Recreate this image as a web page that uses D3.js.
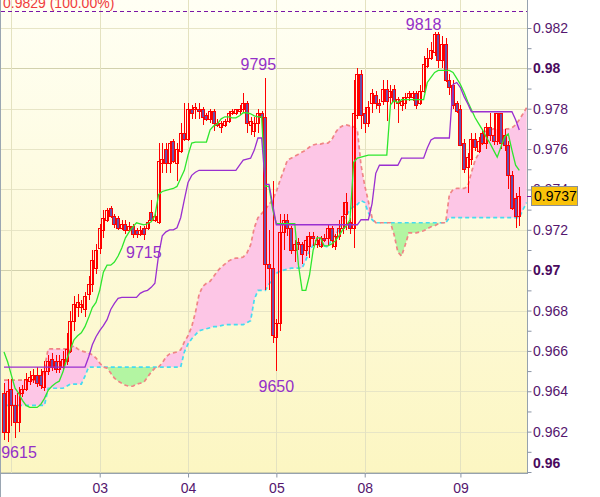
<!DOCTYPE html>
<html><head><meta charset="utf-8">
<script src="https://cdn.jsdelivr.net/npm/d3@7"></script>
<style>
body{margin:0;background:#fff}
svg{display:block}
text{font-family:"Liberation Sans",Arial,sans-serif}
</style>
</head><body>
<svg id="chart" width="600" height="497"></svg>
<script>
// ---------- DATA (prices in pips: value / 10000) ----------
const dayLabels = ["03","04","05","08","09"];
const dayStarts = [26,50,74,98,124];
const dayGrid   = [2,26,50,74,98,124];

const open = [
9639,9620,9641,9633,9625,9639,9641,9645,9646,9648,
9648,9642,9650,9656,9655,9651,9652,9655,9660,9675,
9682,9682,9681,9688,9693,9701,9711,9720,9725,9731,
9727,9726,9721,9723,9720,9722,9720,9718,9721,9721,
9729,9725,9724,9753,9760,9753,9764,9753,9759,9768,
9765,9780,9780,9780,9780,9777,9775,9779,9773,9771,
9772,9774,9778,9778,9779,9780,9783,9772,9769,9773,
9778,9776,9703,9701,9667,9674,9719,9725,9721,9710,
9714,9713,9710,9712,9717,9713,9712,9716,9716,9721,
9712,9717,9721,9728,9724,9721,9777,9797,9778,9773,
9783,9787,9783,9784,9790,9786,9790,9783,9782,9783,
9786,9786,9788,9783,9789,9801,9805,9808,9817,9804,
9812,9794,9792,9783,9780,9763,9751,9755,9765,9759,
9768,9763,9771,9767,9764,9778,9767,9762,9747,9736,
9727];
const high = [
9644,9646,9646,9638,9642,9643,9649,9650,9651,9652,
9651,9655,9658,9659,9658,9658,9660,9669,9680,9687,
9688,9685,9689,9697,9710,9713,9723,9730,9731,9732,
9728,9727,9725,9725,9724,9723,9721,9722,9722,9725,
9735,9728,9763,9763,9763,9764,9765,9763,9773,9783,
9783,9782,9783,9783,9781,9778,9780,9780,9775,9774,
9775,9779,9780,9780,9782,9788,9784,9776,9776,9780,
9779,9795,9720,9744,9676,9728,9728,9728,9722,9715,
9716,9714,9717,9719,9719,9717,9717,9718,9723,9722,
9718,9725,9734,9738,9726,9794,9800,9799,9781,9784,
9790,9789,9785,9794,9794,9792,9792,9786,9786,9788,
9789,9789,9789,9792,9806,9810,9813,9818,9818,9816,
9815,9797,9794,9784,9782,9765,9758,9768,9768,9766,
9770,9773,9778,9778,9778,9778,9770,9764,9749,9738,
9741];
const low = [
9616,9615,9623,9617,9620,9637,9640,9643,9644,9642,
9641,9640,9648,9650,9649,9649,9650,9653,9659,9670,
9677,9679,9677,9685,9689,9698,9708,9716,9724,9726,
9721,9720,9720,9718,9719,9716,9716,9717,9715,9720,
9724,9724,9723,9748,9748,9748,9753,9744,9758,9764,
9764,9775,9775,9775,9772,9774,9773,9769,9771,9768,
9771,9773,9777,9777,9777,9778,9768,9767,9766,9768,
9766,9690,9690,9664,9650,9670,9710,9717,9708,9704,
9710,9703,9707,9706,9712,9711,9711,9714,9712,9711,
9710,9715,9718,9720,9718,9711,9775,9770,9768,9771,
9778,9780,9778,9782,9774,9782,9780,9773,9779,9780,
9784,9784,9780,9782,9788,9800,9804,9806,9800,9800,
9793,9787,9780,9778,9762,9748,9738,9752,9759,9758,
9762,9760,9764,9762,9762,9760,9759,9740,9730,9721,
9722];
const close = [
9620,9640,9633,9625,9639,9641,9646,9647,9648,9644,
9643,9650,9655,9652,9651,9655,9656,9661,9675,9683,
9684,9683,9687,9693,9705,9710,9721,9726,9730,9727,
9723,9721,9723,9720,9722,9718,9718,9720,9718,9724,
9725,9727,9754,9755,9753,9763,9754,9760,9768,9765,
9780,9778,9781,9779,9776,9775,9779,9773,9772,9773,
9774,9778,9779,9780,9780,9783,9773,9774,9773,9778,
9776,9703,9701,9668,9674,9719,9725,9721,9710,9713,
9713,9708,9715,9717,9716,9715,9716,9715,9721,9715,
9717,9721,9727,9734,9721,9778,9797,9777,9773,9781,
9788,9783,9782,9790,9784,9789,9784,9785,9784,9786,
9788,9788,9782,9789,9802,9805,9809,9817,9804,9812,
9794,9791,9782,9779,9762,9750,9756,9765,9761,9764,
9763,9771,9767,9764,9778,9763,9762,9747,9731,9727,
9737];

// Tenkan-sen (green) and Kijun-sen (purple), one value per bar
const tenkan = [
9659.5,9654.5,9648,9641.5,9639,9635.5,9633,9632,9632,9632,
9633.5,9636.5,9640.5,9642.5,9644,9645,9649.5,9655.5,9660.5,9665.5,
9667.5,9669,9672,9676.5,9681.5,9684,9690,9699,9702.5,9702.5,
9704,9707,9711,9716,9719,9721.5,9723.5,9723,9722.5,9723,
9724,9727,9737.5,9739,9739.5,9740,9740.5,9741.5,9745.5,9749.5,
9757,9763,9763.5,9763.5,9763.5,9763.5,9769.5,9771.5,9772.5,9775,
9776,9776,9775.5,9775.5,9776.5,9778,9778,9777.5,9776.5,9776,
9776,9741.5,9741.5,9730,9723,9723,9723,9723,9723,9723,
9702.5,9690,9690,9697.5,9710,9716,9716,9712,9712,9713,
9714.5,9717,9720,9722,9725,9753.5,9755.5,9756,9756.5,9757,
9757,9757,9757,9757,9757,9782,9784,9783,9784.5,9784.5,
9784.5,9784.5,9784.5,9784.5,9784.5,9793,9795.5,9798,9799,9799,
9799,9799,9798,9795,9792,9788,9783.5,9779.5,9775.5,9772.5,
9769.5,9766,9763,9759.5,9756,9761,9766,9767.5,9759.5,9752,
9749.5];
const kijun = [
9652,9652,9652,9652,9652,9652,9652,9652,9652,9652,
9652,9652,9652,9652,9652,9652,9652,9652,9652,9652,
9652,9652,9652,9657,9663,9667,9670,9672.5,9675.5,9680.5,
9683.5,9686,9686.5,9686.5,9686.5,9686.5,9686.5,9688.5,9689.5,9690,
9691.5,9693.5,9707.5,9717,9719,9720,9720,9721,9726,9735,
9743.5,9747,9748.5,9749.5,9749.5,9749.5,9749.5,9749.5,9749.5,9749.5,
9749.5,9749.5,9749.5,9749.5,9752,9754.5,9755,9755.5,9759.5,9765.5,
9765.5,9742.5,9742.5,9732.5,9722.5,9722.5,9722.5,9722.5,9722.5,9722.5,
9722.5,9722.5,9722.5,9722.5,9722.5,9722.5,9722.5,9722.5,9722.5,9722.5,
9722.5,9722.5,9722.5,9722.5,9722.5,9722.5,9722.5,9725,9725,9725,
9733,9748,9752,9752,9752,9752,9752,9752,9755.5,9755.5,
9755.5,9755.5,9755.5,9755.5,9755.5,9760.5,9764.5,9765.5,9765.5,9765.5,
9765.5,9765.5,9792,9793,9790.5,9786,9782.5,9778.5,9778.5,9778.5,
9778.5,9778.5,9778.5,9778.5,9778.5,9778.5,9778.5,9778.5,9778.5,9774.5,
9769.5];

// Senkou spans (already displaced), bars 0..142
const spanA = [
9645.5,9645.5,9645.5,9645.5,9645.5,9645.5,9645.5,9645.5,9645.5,9645.5,
9645.5,9651.5,9661,9661,9661,9661,9661,9661,9661.5,9662.5,
9661,9660,9659.5,9659,9658,9656.5,9654,9652,9651.5,9649,
9646.5,9645,9644,9643,9642.5,9642.5,9643.5,9644,9644.5,9647,
9649.5,9651.5,9652,9654,9657,9658.5,9659,9659.5,9660.5,9664.5,
9667.5,9672,9679,9688,9692,9693.5,9694.5,9697,9699.5,9701.5,
9703,9704.5,9705.5,9706,9706,9706.5,9708.5,9712.5,9721,9726,
9728,9730,9732.5,9735,9739,9744.5,9749.5,9754.5,9755.5,9756.5,
9757.5,9758.5,9759.5,9761,9762,9762.5,9762.5,9763,9763,9764.5,
9768,9770.5,9771.5,9772,9771.5,9771,9769.5,9752,9742,9734,
9726,9723.5,9723.5,9723.5,9723.5,9723.5,9717.5,9709,9707,9712.5,
9718.5,9718.5,9718.5,9719,9719.5,9720.5,9721.5,9722,9723,9723.5,
9723.5,9737.5,9740,9740.5,9740.5,9740.5,9741.5,9748.5,9754.5,9758,
9766,9769,9769.5,9770,9770,9770,9770,9770,9770.5,9772,
9774.5,9777.5,9780.5];
const spanB = [
9633,9633,9633,9633,9633,9633,9633,9633,9633,9633,
9633,9633,9641.5,9641.5,9641.5,9641.5,9641.5,9642.5,9643.5,9643.5,
9643.5,9643.5,9647.5,9652,9652,9652,9652,9652,9652,9652,
9652,9652,9652,9652,9652,9652,9652,9652,9652,9652,
9652,9652,9652,9652,9652,9652,9652,9652,9652,9659.5,
9663.5,9666,9668,9670,9670.5,9671,9671.5,9672,9672,9672.5,
9673,9673,9673,9673,9673,9673,9674,9675,9685.5,9690,
9690,9690,9693,9696,9698.5,9699.5,9700,9700.5,9701,9701,
9701,9701,9705,9709.5,9712.5,9712.5,9712.5,9712,9711.5,9715,
9717.5,9720,9724,9727,9730,9731.5,9732.5,9734.5,9733.5,9728.5,
9725,9723.5,9723.5,9723.5,9723.5,9723.5,9723.5,9723.5,9723.5,9723.5,
9723.5,9723.5,9723.5,9723.5,9723.5,9723.5,9723.5,9723.5,9723.5,9723.5,
9723.5,9726,9726,9726,9726,9726,9726,9726,9726,9726,
9726,9726,9726,9726,9726,9726,9726,9726,9726,9726,
9726,9730,9733.5];

const yTickLabels = [0.982,0.98,0.978,0.976,0.974,0.972,0.97,0.968,0.966,0.964,0.962,0.96];
const yBoldLabels = [0.98,0.97,0.96];
const annText  = ["9615","9715","9795","9650","9818"];
const annIndex = [1,38,71,74,117];
const annSide  = ["low","low","high","low","high"];
const maxText = "0.9829 (100.00%)";
const maxValue = 0.9829;
const lastPrice = 0.9737;

// ---------- DRAW ----------
const W = 600, H = 497, plotR = 527, plotB = 473;
const svg = d3.select("#chart");
const P = v => v / 10000;
const x = d3.scaleLinear().domain([0, 140]).range([4, 519.3]);
const y = d3.scaleLinear().domain([0.96, 0.982]).range([472, 28]);

const defs = svg.append("defs");
const grad = defs.append("linearGradient").attr("id","bg").attr("x1",0).attr("y1",0).attr("x2",0).attr("y2",1);
grad.append("stop").attr("offset","0%").attr("stop-color","#fffff4");
grad.append("stop").attr("offset","100%").attr("stop-color","#fcf6c2");
defs.append("clipPath").attr("id","plotclip").append("rect")
  .attr("x",1).attr("y",0).attr("width",plotR-1).attr("height",plotB);

svg.append("rect").attr("width",W).attr("height",H).attr("fill","#fff");
svg.append("rect").attr("x",1).attr("y",0).attr("width",plotR-1).attr("height",plotB).attr("fill","url(#bg)");

const plot = svg.append("g").attr("clip-path","url(#plotclip)");

// grid
const gridVals = d3.range(0, 12).map(k => +(0.96 + k*0.002).toFixed(3));
plot.append("g").selectAll("line").data(gridVals).join("line")
  .attr("x1",1).attr("x2",plotR)
  .attr("y1",d=>Math.round(y(d))+0.5).attr("y2",d=>Math.round(y(d))+0.5)
  .attr("stroke",d=>yBoldLabels.some(b=>Math.abs(b-d)<1e-9)?"#d2d1ad":"#e7e5c6")
  .attr("stroke-width",1);
plot.append("g").selectAll("line").data(dayGrid).join("line")
  .attr("x1",d=>Math.round(x(d))+0.5).attr("x2",d=>Math.round(x(d))+0.5)
  .attr("y1",0).attr("y2",plotB)
  .attr("stroke","#e4e2c0").attr("stroke-width",1);

// cloud
const idx = d3.range(spanA.length);
const pink = d3.area().x(i=>x(i)).y0(i=>y(P(spanB[i]))).y1(i=>y(P(Math.max(spanA[i],spanB[i]))));
const green = d3.area().x(i=>x(i)).y0(i=>y(P(spanB[i]))).y1(i=>y(P(Math.min(spanA[i],spanB[i]))));
plot.append("path").datum(idx).attr("d",pink).attr("fill","#fdc6e6");
plot.append("path").datum(idx).attr("d",green).attr("fill","#b3f5a2");
const lineOf = arr => d3.line().x(i=>x(i)).y(i=>y(P(arr[i])));
plot.append("path").datum(idx).attr("d",lineOf(spanB)).attr("fill","none")
  .attr("stroke","#45dcf0").attr("stroke-width",1.7).attr("stroke-dasharray","4,3");
plot.append("path").datum(idx).attr("d",lineOf(spanA)).attr("fill","none")
  .attr("stroke","#f08585").attr("stroke-width",1.7).attr("stroke-dasharray","4,3");

// candles
const bars = d3.range(open.length);
const cg = plot.append("g");
bars.forEach(i => {
  const xi = Math.round(x(i));
  const o = y(P(open[i])), c = y(P(close[i]));
  const hi = y(P(high[i])), lo = y(P(low[i]));
  cg.append("line").attr("x1",xi+0.5).attr("x2",xi+0.5)
    .attr("y1",Math.round(hi)).attr("y2",Math.round(lo))
    .attr("stroke","#ff0000").attr("stroke-width",1);
  const top = Math.round(Math.min(o,c)), bot = Math.round(Math.max(o,c));
  cg.append("rect").attr("x",xi-1.5).attr("width",3)
    .attr("y",top+0.5).attr("height",Math.max(1,bot-top))
    .attr("fill", close[i] < open[i] ? "#6b4ea6" : "none")
    .attr("stroke","#ff0000").attr("stroke-width",1);
});

// tenkan / kijun
plot.append("path").datum(bars).attr("d",lineOf(tenkan)).attr("fill","none")
  .attr("stroke","#2ee62e").attr("stroke-width",1.3);
plot.append("path").datum(bars).attr("d",lineOf(kijun)).attr("fill","none")
  .attr("stroke","#9a2fd0").attr("stroke-width",1.3);

// max line and label
plot.append("line").attr("x1",1).attr("x2",plotR)
  .attr("y1",Math.round(y(maxValue))+1.5).attr("y2",Math.round(y(maxValue))+1.5)
  .attr("stroke","#7a16a6").attr("stroke-width",1).attr("stroke-dasharray","4,3");
svg.append("text").attr("x",3).attr("y",8).attr("font-size",14)
  .attr("fill","#f03c3c").text(maxText);

// annotations
const annDx = [0,0,-7,0,-11];
const annDy = [16,18,-8,21,-2];
annText.forEach((t,k) => {
  const i = annIndex[k];
  const v = annSide[k]==="low" ? low[i] : high[i];
  const cx = Math.max(x(i)+annDx[k], 19);
  svg.append("text").attr("x",cx).attr("y",y(P(v))+annDy[k])
    .attr("text-anchor","middle").attr("font-size",16).attr("fill","#9430c8").text(t);
});

// frame
svg.append("line").attr("x1",0.5).attr("x2",0.5).attr("y1",0).attr("y2",H).attr("stroke","#9aa6b2");
svg.append("line").attr("x1",plotR+0.5).attr("x2",plotR+0.5).attr("y1",0).attr("y2",plotB).attr("stroke","#96a2ae");
svg.append("line").attr("x1",0).attr("x2",plotR+1).attr("y1",plotB+0.5).attr("y2",plotB+0.5).attr("stroke","#96a2ae");

// y axis ticks
const yAxis = d3.axisRight(y).tickValues(d3.range(0,23).map(k=>+(0.96+k*0.001).toFixed(3)))
  .tickSize(4).tickFormat("");
const ya = svg.append("g").attr("transform",`translate(${plotR+0.5},0)`).call(yAxis);
ya.select(".domain").remove();
ya.selectAll(".tick line").attr("stroke","#8a94a4");
// y labels
yTickLabels.forEach(v => {
  let yy = y(v);
  if (yy > 466) yy = 463;
  const bold = yBoldLabels.some(b=>Math.abs(b-v)<1e-9);
  svg.append("text").attr("x",533).attr("y",yy).attr("dy","0.36em")
    .attr("font-size",14).attr("font-weight",bold?"bold":"normal")
    .attr("fill",bold?"#4a0a5e":"#55166e").text(String(+v.toFixed(3)));
});
// current price marker
svg.append("line").attr("x1",plotR).attr("x2",plotR+5)
  .attr("y1",Math.round(y(lastPrice))+0.5).attr("y2",Math.round(y(lastPrice))+0.5).attr("stroke","#7a16a6");
const py = y(lastPrice);
svg.append("rect").attr("x",531.5).attr("y",Math.round(py)-9.5).attr("width",46).attr("height",19)
  .attr("fill","#f9c20a").attr("stroke","#8a8f98");
svg.append("text").attr("x",534).attr("y",py).attr("dy","0.36em").attr("font-size",14)
  .attr("fill","#000").text(String(lastPrice));

// x axis
const xAxis = d3.axisBottom(x).tickValues(dayStarts).tickFormat((d,k)=>dayLabels[k]).tickSize(4).tickPadding(6);
const xa = svg.append("g").attr("transform",`translate(0,${plotB+0.5})`).call(xAxis);
xa.select(".domain").remove();
xa.selectAll(".tick line").attr("stroke","#8a94a4");
xa.selectAll(".tick text").attr("font-size",14).attr("fill","#55166e")
  .attr("font-family","'Liberation Sans',Arial,sans-serif");
</script>
</body></html>
